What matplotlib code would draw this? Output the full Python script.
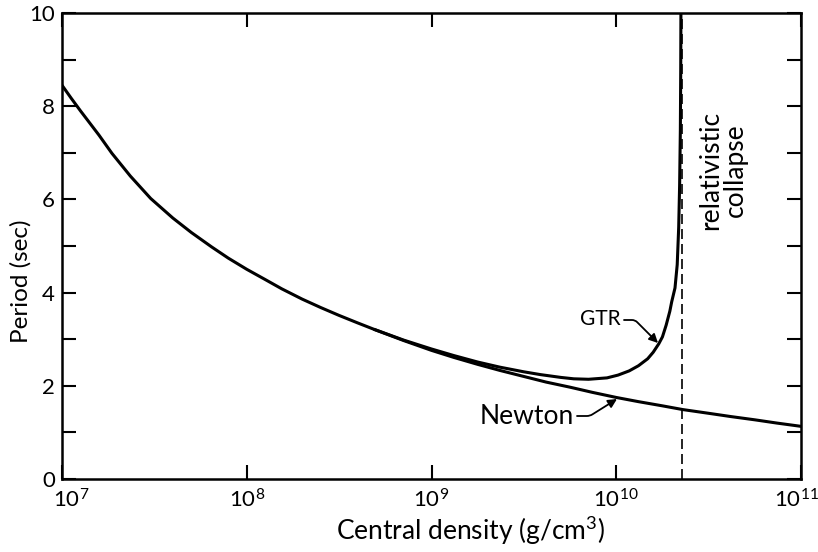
import numpy as np
import matplotlib
matplotlib.use("Agg")
import matplotlib.pyplot as plt
import matplotlib.transforms as mtransforms
from matplotlib.ticker import FixedLocator, MultipleLocator

plt.rcParams['font.family'] = ['Lato', 'DejaVu Sans']
plt.rcParams['mathtext.fontset'] = 'custom'
plt.rcParams['mathtext.rm'] = 'Lato'

# Newtonian curve: log10(central density) vs period (sec)
newton_logrho = [7.0, 7.05, 7.1, 7.15, 7.2, 7.27, 7.37, 7.48, 7.6, 7.7, 7.81, 7.9,
                 8.0, 8.1, 8.19, 8.3, 8.4, 8.5, 8.6, 8.69, 8.85, 9.0, 9.12, 9.25,
                 9.37, 9.5, 9.62, 9.75, 9.87, 10.0, 10.12, 10.25, 10.36, 10.5,
                 10.62, 10.75, 10.87, 11.0]
newton_period = [8.45, 8.17, 7.9, 7.64, 7.38, 6.99, 6.5, 6.02, 5.6, 5.29, 4.98, 4.74,
                 4.5, 4.28, 4.08, 3.86, 3.68, 3.51, 3.35, 3.21, 2.97, 2.76, 2.61, 2.46,
                 2.33, 2.2, 2.08, 1.97, 1.86, 1.75, 1.66, 1.57, 1.49, 1.41,
                 1.34, 1.27, 1.2, 1.13]

# General relativity curve
gtr_logrho = [8.69, 8.85, 9.0, 9.12, 9.25, 9.37, 9.5, 9.59, 9.7, 9.77, 9.85, 9.95,
              10.01, 10.07, 10.12, 10.17, 10.2, 10.23, 10.25, 10.27, 10.29, 10.3,
              10.318, 10.33, 10.338, 10.343, 10.347, 10.349, 10.35]
gtr_period = [3.21, 2.98, 2.79, 2.65, 2.51, 2.4, 2.3, 2.24, 2.18, 2.15, 2.14, 2.17,
              2.23, 2.32, 2.43, 2.58, 2.72, 2.9, 3.05, 3.3, 3.6, 3.8,
              4.1, 4.6, 5.4, 6.3, 7.5, 8.8, 10.0]

collapse_rho = 2.26e10

xticks = [1e7, 1e8, 1e9, 1e10, 1e11]
xticklabels = [r'$\mathregular{10^{7}}$', r'$\mathregular{10^{8}}$', r'$\mathregular{10^{9}}$',
               r'$\mathregular{10^{10}}$', r'$\mathregular{10^{11}}$']
yticks = [0, 2, 4, 6, 8, 10]

fig = plt.figure(figsize=(8.18, 5.52), dpi=100)
ax = fig.add_axes([62/818, 1-479/552, (801-62)/818, (479-13)/552])

ax.plot(10**np.array(newton_logrho), newton_period, color='black', lw=2.2,
        solid_capstyle='round', solid_joinstyle='round')
ax.plot(10**np.array(gtr_logrho), gtr_period, color='black', lw=2.2,
        solid_capstyle='round', solid_joinstyle='round')
ax.axvline(collapse_rho, color='black', lw=1.2, ls=(0, (6, 3)))

ax.set_xscale('log')
ax.set_xlim(1e7, 1e11)
ax.set_ylim(0, 10)
ax.xaxis.set_major_locator(FixedLocator(xticks))
ax.xaxis.set_minor_locator(FixedLocator([]))
ax.set_xticklabels(xticklabels)
ax.set_yticks(yticks)
ax.yaxis.set_minor_locator(MultipleLocator(1))

ax.tick_params(which='both', direction='in', top=True, right=True, length=10, width=1.5,
               labelsize=16, pad=5)
ax.tick_params(axis='x', pad=7)
for s in ax.spines.values():
    s.set_linewidth(1.8)

# small horizontal nudges of the end x tick labels (as in the reference)
xl = ax.get_xticklabels()
xl[0].set_transform(xl[0].get_transform() + mtransforms.ScaledTranslation(9/100, 0, fig.dpi_scale_trans))
xl[-1].set_transform(xl[-1].get_transform() + mtransforms.ScaledTranslation(-5/100, 0, fig.dpi_scale_trans))

ax.set_xlabel('Central density (g/cm$^\\mathregular{3}$)', fontsize=19)
ax.xaxis.set_label_coords((470 - 62) / 739, (479 - 530) / 466)
ax.xaxis.label.set_va('center')
ax.set_ylabel('Period (sec)', fontsize=17.5)
ax.yaxis.set_label_coords((21 - 62) / 739, (479 - 281) / 466)
ax.yaxis.label.set_va('center')

def to_data(px, py):
    return 10**(7 + (px - 62) / 184.75), (479 - py) / 46.6

# GTR label and hooked arrow
gx, gy = to_data(621, 319)
ax.text(gx, gy, 'GTR', fontsize=15, ha='right', va='center')
sx, sy = to_data(624, 320)
tx, ty = to_data(658, 343)
ax.annotate('', xy=(tx, ty), xytext=(sx, sy),
            arrowprops=dict(arrowstyle='-|>', color='black', lw=1.3, mutation_scale=13,
                            shrinkA=0, shrinkB=0,
                            connectionstyle='angle,angleA=0,angleB=135,rad=3'))

# Newton label and hooked arrow
nx, ny = to_data(574, 416)
ax.text(nx, ny, 'Newton', fontsize=19, ha='right', va='center')
sx, sy = to_data(577, 416)
tx, ty = to_data(617, 399)
ax.annotate('', xy=(tx, ty), xytext=(sx, sy),
            arrowprops=dict(arrowstyle='-|>', color='black', lw=1.3, mutation_scale=13,
                            shrinkA=0, shrinkB=0,
                            connectionstyle='angle,angleA=0,angleB=212,rad=3'))

rx, ry = to_data(723, 170)
ax.text(rx, ry, 'relativistic\ncollapse', rotation=90, fontsize=19,
        ha='center', va='center', linespacing=0.95)

fig.savefig('out.png', dpi=100)
